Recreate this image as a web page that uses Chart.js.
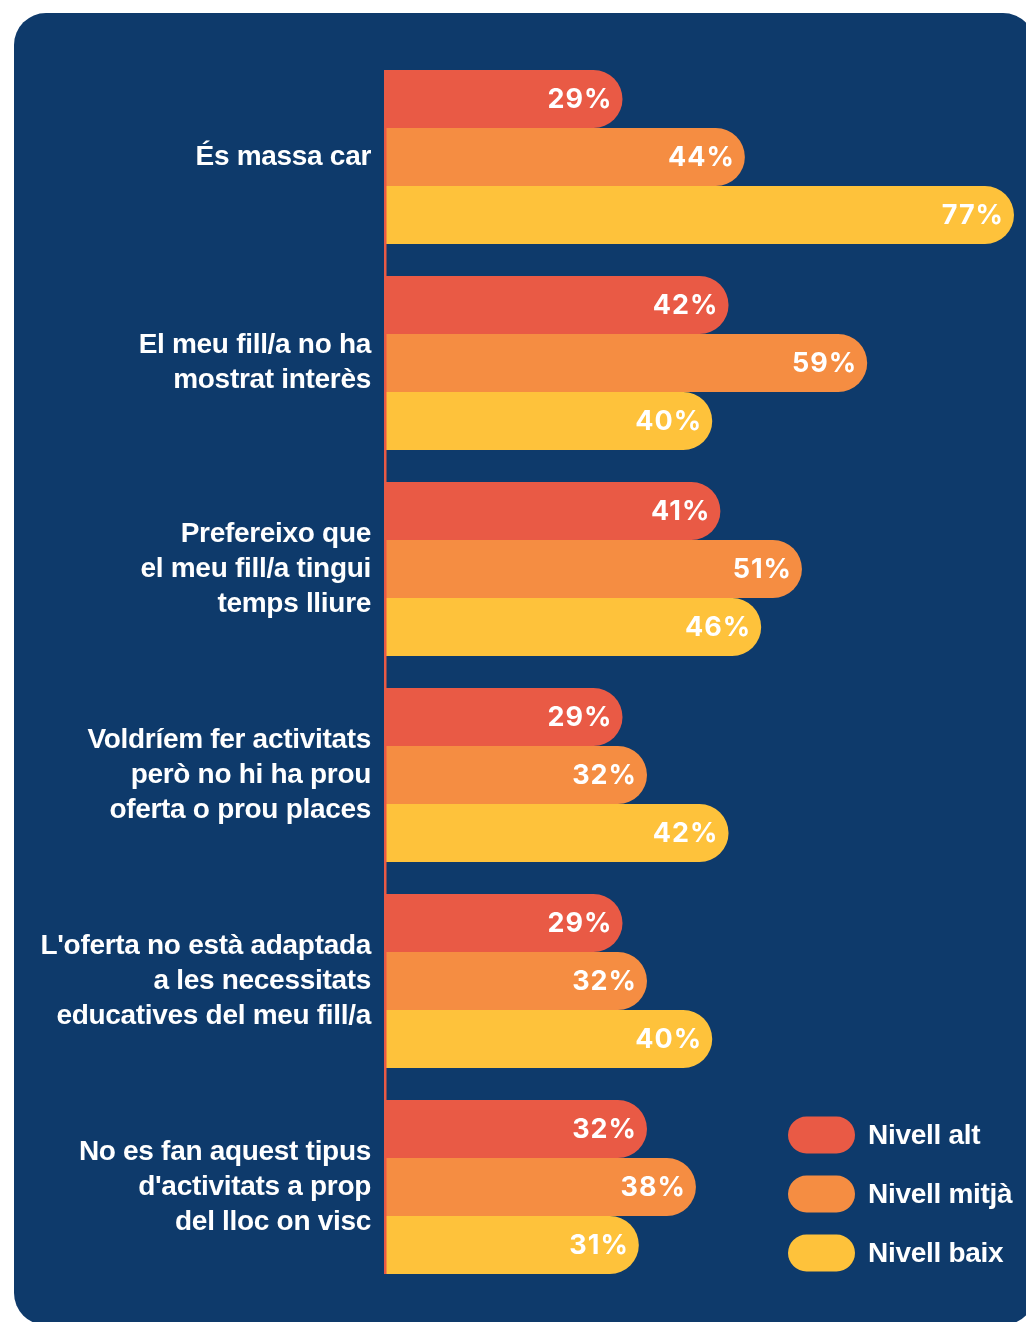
<!DOCTYPE html>
<html>
<head>
<meta charset="utf-8">
<script src="https://cdn.jsdelivr.net/npm/chart.js@4"></script>
<style>
  html, body { margin: 0; padding: 0; background: #ffffff; }
  body { width: 1026px; height: 1322px; position: relative; overflow: hidden; }
  #card { position: absolute; left: 14px; top: 13px; width: 1021px; height: 1312px; background: #0E3A6B; border-radius: 32px; }
  #wrap { position: absolute; left: 0; top: 0; width: 1026px; height: 1322px; }
</style>
</head>
<body>
<div id="card"></div>
<div id="wrap"><canvas id="c" width="1026" height="1322"></canvas></div>
<script>
const categories = [
  ["És massa car"],
  ["El meu fill/a no ha", "mostrat interès"],
  ["Prefereixo que", "el meu fill/a tingui", "temps lliure"],
  ["Voldríem fer activitats", "però no hi ha prou", "oferta o prou places"],
  ["L'oferta no està adaptada", "a les necessitats", "educatives del meu fill/a"],
  ["No es fan aquest tipus", "d'activitats a prop", "del lloc on visc"]
];
const seriesNames = ["Nivell alt", "Nivell mitjà", "Nivell baix"];
const nivellAlt = [29, 42, 41, 29, 29, 32];
const nivellMitja = [44, 59, 51, 32, 32, 38];
const nivellBaix = [77, 40, 46, 42, 40, 31];
const colors = ["#E95A45", "#F58D42", "#FEC23B"];

const LABEL_FONT = "bold 28px 'Liberation Sans', Arial, sans-serif";
const VALUE_FONT = "700 27px Inter, 'Liberation Sans', sans-serif";

const categoryLabels = {
  id: 'categoryLabels',
  afterDraw(chart) {
    const ctx = chart.ctx;
    const y = chart.scales.y;
    const lh = 35;
    ctx.save();
    ctx.fillStyle = '#ffffff';
    ctx.font = LABEL_FONT;
    ctx.textAlign = 'right';
    ctx.textBaseline = 'middle';
    try { ctx.letterSpacing = '-0.3px'; } catch (e) {}
    chart.data.labels.forEach((lines, i) => {
      const cy = y.getPixelForTick(i);
      const n = lines.length;
      lines.forEach((line, k) => {
        ctx.fillText(line, chart.chartArea.left - 15, cy + (k - (n - 1) / 2) * lh);
      });
    });
    ctx.restore();
  }
};

const valueLabels = {
  id: 'valueLabels',
  afterDatasetsDraw(chart) {
    const ctx = chart.ctx;
    ctx.save();
    ctx.fillStyle = '#ffffff';
    ctx.font = VALUE_FONT;
    ctx.textAlign = 'right';
    ctx.textBaseline = 'middle';
    try { ctx.letterSpacing = '1px'; } catch (e) {}
    chart.data.datasets.forEach((ds, di) => {
      chart.getDatasetMeta(di).data.forEach((bar, i) => {
        ctx.fillText(ds.data[i] + '%', bar.x - 10, bar.y + 1);
      });
    });
    ctx.restore();
  }
};

const axisLine = {
  id: 'axisLine',
  afterDatasetsDraw(chart) {
    let top = Infinity, bottom = -Infinity;
    chart.data.datasets.forEach((d, i) => chart.getDatasetMeta(i).data.forEach(b => {
      top = Math.min(top, b.y - b.height / 2);
      bottom = Math.max(bottom, b.y + b.height / 2);
    }));
    const ctx = chart.ctx;
    const x = chart.scales.x.getPixelForValue(0);
    ctx.save();
    ctx.fillStyle = '#E95A45';
    ctx.fillRect(x - 2, top, 2.5, bottom - top);
    ctx.restore();
  }
};

const pillLegend = {
  id: 'pillLegend',
  afterDraw(chart) {
    const ctx = chart.ctx;
    const x0 = 788, w = 67, h = 37, startY = 1135, gap = 59;
    ctx.save();
    chart.data.datasets.forEach((ds, i) => {
      const cy = startY + i * gap;
      ctx.fillStyle = ds.backgroundColor;
      ctx.beginPath();
      ctx.roundRect(x0, cy - h / 2, w, h, h / 2);
      ctx.fill();
      ctx.fillStyle = '#ffffff';
      ctx.font = LABEL_FONT;
      ctx.textAlign = 'left';
      ctx.textBaseline = 'middle';
      try { ctx.letterSpacing = '-0.3px'; } catch (e) {}
      ctx.fillText(ds.label, x0 + w + 13, cy + 1);
    });
    ctx.restore();
  }
};

const radius = { topLeft: 0, bottomLeft: 0, topRight: 40, bottomRight: 40 };

new Chart(document.getElementById('c'), {
  type: 'bar',
  data: {
    labels: categories,
    datasets: [
      { label: seriesNames[0], data: nivellAlt, backgroundColor: colors[0] },
      { label: seriesNames[1], data: nivellMitja, backgroundColor: colors[1] },
      { label: seriesNames[2], data: nivellBaix, backgroundColor: colors[2] }
    ]
  },
  options: {
    indexAxis: 'y',
    responsive: false,
    animation: false,
    devicePixelRatio: 1,
    layout: { padding: { top: 54, bottom: 32, right: 12, left: 0 } },
    datasets: {
      bar: {
        categoryPercentage: 174 / 206,
        barPercentage: 1,
        borderRadius: radius,
        borderSkipped: 'start',
        borderWidth: 0
      }
    },
    scales: {
      x: { display: false, min: 0, max: 77 },
      y: {
        position: 'left',
        grid: { display: false, drawTicks: false },
        border: { display: false },
        ticks: { display: false },
        afterFit(scale) { scale.width = 386; }
      }
    },
    plugins: {
      legend: { display: false },
      tooltip: { enabled: false },
      title: { display: false }
    }
  },
  plugins: [valueLabels, axisLine, categoryLabels, pillLegend]
});
</script>
</body>
</html>
